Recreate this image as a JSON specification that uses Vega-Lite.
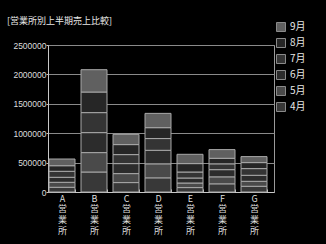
{
  "$schema": "https://vega.github.io/schema/vega-lite/v6.json",
  "autosize": {"type": "none"},
  "width": 226,
  "height": 147,
  "padding": {"left": 48, "top": 45, "right": 52, "bottom": 52},
  "background": "#000000",
  "title": {
    "text": "[営業所別上半期売上比較]",
    "anchor": "start",
    "frame": "group",
    "dx": -41,
    "offset": -4,
    "font": "Noto Sans CJK JP",
    "fontSize": 9,
    "fontWeight": "normal",
    "color": "#e8e8e8"
  },
  "config": {
    "view": {"stroke": "#9a9a9a", "strokeWidth": 1},
    "axis": {"labelColor": "#dddddd", "domainColor": "#c8c8c8", "tickColor": "#c8c8c8", "gridColor": "#8a8a8a", "titleColor": "#dddddd"}
  },
  "data": {
    "values": [
      {"office": "A営業所", "month": "4月", "m": 4, "sales": 80000},
      {"office": "A営業所", "month": "5月", "m": 5, "sales": 85000},
      {"office": "A営業所", "month": "6月", "m": 6, "sales": 85000},
      {"office": "A営業所", "month": "7月", "m": 7, "sales": 102000},
      {"office": "A営業所", "month": "8月", "m": 8, "sales": 95000},
      {"office": "A営業所", "month": "9月", "m": 9, "sales": 114000},
      {"office": "B営業所", "month": "4月", "m": 4, "sales": 340000},
      {"office": "B営業所", "month": "5月", "m": 5, "sales": 330000},
      {"office": "B営業所", "month": "6月", "m": 6, "sales": 340000},
      {"office": "B営業所", "month": "7月", "m": 7, "sales": 340000},
      {"office": "B営業所", "month": "8月", "m": 8, "sales": 350000},
      {"office": "B営業所", "month": "9月", "m": 9, "sales": 380000},
      {"office": "C営業所", "month": "4月", "m": 4, "sales": 160000},
      {"office": "C営業所", "month": "5月", "m": 5, "sales": 153000},
      {"office": "C営業所", "month": "6月", "m": 6, "sales": 170000},
      {"office": "C営業所", "month": "7月", "m": 7, "sales": 153000},
      {"office": "C営業所", "month": "8月", "m": 8, "sales": 170000},
      {"office": "C営業所", "month": "9月", "m": 9, "sales": 175000},
      {"office": "D営業所", "month": "4月", "m": 4, "sales": 241000},
      {"office": "D営業所", "month": "5月", "m": 5, "sales": 238000},
      {"office": "D営業所", "month": "6月", "m": 6, "sales": 230000},
      {"office": "D営業所", "month": "7月", "m": 7, "sales": 200000},
      {"office": "D営業所", "month": "8月", "m": 8, "sales": 185000},
      {"office": "D営業所", "month": "9月", "m": 9, "sales": 243000},
      {"office": "E営業所", "month": "4月", "m": 4, "sales": 75000},
      {"office": "E営業所", "month": "5月", "m": 5, "sales": 78000},
      {"office": "E営業所", "month": "6月", "m": 6, "sales": 85000},
      {"office": "E営業所", "month": "7月", "m": 7, "sales": 102000},
      {"office": "E営業所", "month": "8月", "m": 8, "sales": 143000},
      {"office": "E営業所", "month": "9月", "m": 9, "sales": 158000},
      {"office": "F営業所", "month": "4月", "m": 4, "sales": 139000},
      {"office": "F営業所", "month": "5月", "m": 5, "sales": 119000},
      {"office": "F営業所", "month": "6月", "m": 6, "sales": 122000},
      {"office": "F営業所", "month": "7月", "m": 7, "sales": 99000},
      {"office": "F営業所", "month": "8月", "m": 8, "sales": 94000},
      {"office": "F営業所", "month": "9月", "m": 9, "sales": 148000},
      {"office": "G営業所", "month": "4月", "m": 4, "sales": 97000},
      {"office": "G営業所", "month": "5月", "m": 5, "sales": 85000},
      {"office": "G営業所", "month": "6月", "m": 6, "sales": 102000},
      {"office": "G営業所", "month": "7月", "m": 7, "sales": 114000},
      {"office": "G営業所", "month": "8月", "m": 8, "sales": 102000},
      {"office": "G営業所", "month": "9月", "m": 9, "sales": 102000}
    ]
  },
  "mark": {"type": "bar", "stroke": "#a8a8a8", "strokeWidth": 1},
  "encoding": {
    "x": {
      "field": "office",
      "type": "nominal",
      "sort": null,
      "scale": {"paddingInner": 0.1875, "paddingOuter": 0.125, "align": 0.125},
      "axis": {
        "title": null,
        "labelAngle": 0,
        "labelExpr": "split(datum.label, '')",
        "labelFont": "Noto Sans CJK JP",
        "labelFontSize": 9,
        "labelLineHeight": 10.8,
        "labelBaseline": "top",
        "labelPadding": 5,
        "tickBand": "extent",
        "tickSize": -3,
        "domainColor": "#c8c8c8"
      }
    },
    "y": {
      "field": "sales",
      "type": "quantitative",
      "stack": "zero",
      "scale": {"domain": [0, 2500000], "nice": false},
      "axis": {
        "title": null,
        "values": [0, 500000, 1000000, 1500000, 2000000, 2500000],
        "format": "d",
        "labelFont": "Liberation Sans",
        "labelFontSize": 8.5,
        "labelPadding": 0,
        "tickSize": 2,
        "grid": true
      }
    },
    "order": {"field": "m", "type": "quantitative", "sort": "ascending"},
    "color": {
      "field": "month",
      "type": "nominal",
      "scale": {
        "domain": ["9月", "8月", "7月", "6月", "5月", "4月"],
        "range": ["#606060", "#262626", "#343434", "#2c2c2c", "#4a4a4a", "#383838"]
      },
      "legend": {
        "title": null,
        "orient": "none",
        "legendX": 228,
        "legendY": -23,
        "padding": 0,
        "symbolType": "square",
        "symbolSize": 81,
        "symbolStrokeColor": "#8a8a8a",
        "symbolStrokeWidth": 1,
        "labelColor": "#e8e8e8",
        "labelFont": "Noto Sans CJK JP",
        "labelFontSize": 10,
        "labelOffset": 4,
        "rowPadding": 2
      }
    }
  }
}
